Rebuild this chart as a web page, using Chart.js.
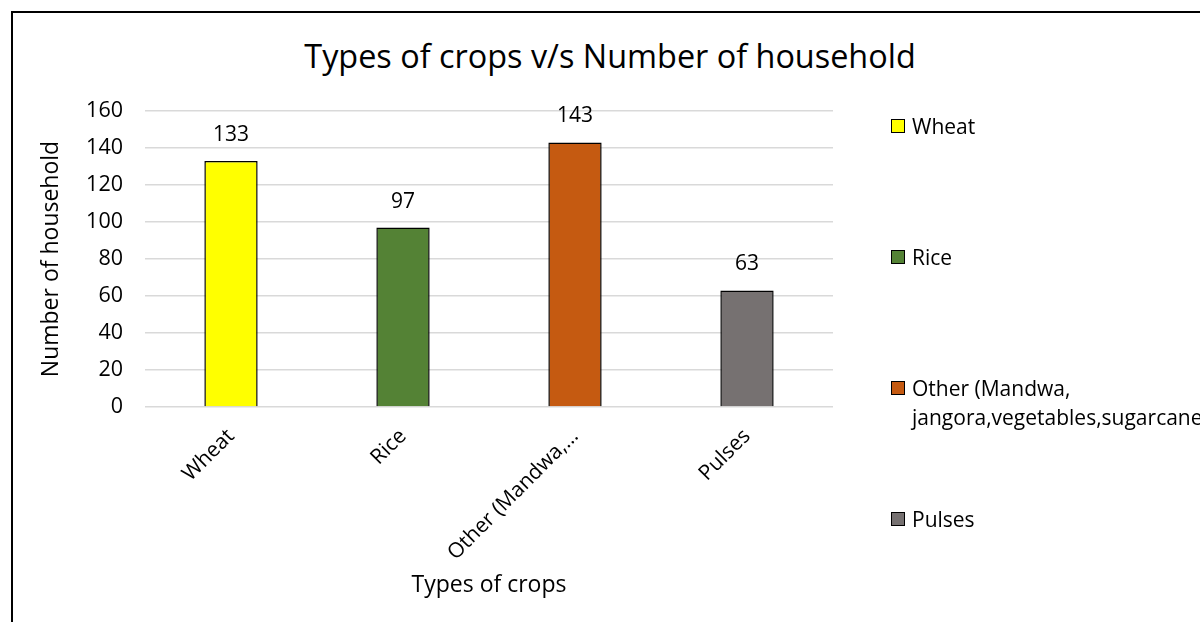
<!DOCTYPE html>
<html>
<head>
<meta charset="utf-8">
<style>
  html, body { margin: 0; padding: 0; background: #fff; }
  body { width: 1200px; height: 622px; overflow: hidden; position: relative; font-family: 'Open Sans', sans-serif; color: #000; }
  #marco { position: absolute; left: 11px; top: 11px; width: 1300px; height: 700px; border-left: 2px solid #000; border-top: 2px solid #000; }
  #titulo { position: absolute; left: 0; top: 33px; width: 1220px; text-align: center; font-size: 32.4px; line-height: 44px; }
  #caja { position: absolute; left: 0; top: 0; width: 1200px; height: 622px; }
  .item { position: absolute; left: 891px; width: 300px; font-size: 21px; line-height: 29px; white-space: normal; }
  .item .cuadro { position: absolute; left: 0; top: 7px; width: 12px; height: 12px; border: 1px solid #000; }
  .item .texto { display: block; margin-left: 21px; width: 270px; }
</style>
</head>
<body>
<div id="marco"></div>
<div id="titulo">Types of crops v/s Number of household</div>
<div id="caja"><canvas id="Grafica" width="1200" height="622"></canvas></div>
<div id="leyenda"></div>
<script src="https://cdn.jsdelivr.net/npm/chart.js"></script>
<script>
// datos
const cultivos = ['Wheat', 'Rice', 'Other (Mandwa, jangora,vegetables,sugarcane)', 'Pulses'];
const hogares = [133, 97, 143, 63];
const colores = ['#FFFF00', '#548235', '#C55A11', '#767171'];
const marcasY = [0, 20, 40, 60, 80, 100, 120, 140, 160];

// leyenda a la derecha (una entrada por cultivo)
const leyenda = document.getElementById('leyenda');
cultivos.forEach((c, i) => {
  const d = document.createElement('div');
  d.className = 'item';
  d.style.top = (112 + i * 131) + 'px';
  d.innerHTML = '<span class="cuadro" style="background:' + colores[i] + '"></span><span class="texto"></span>';
  d.querySelector('.texto').textContent = c;
  leyenda.appendChild(d);
});

// valores encima de cada barra
const etiquetasValor = {
  id: 'etiquetasValor',
  afterDatasetsDraw(chart) {
    const ctx = chart.ctx;
    const meta = chart.getDatasetMeta(0);
    ctx.save();
    ctx.font = "21px 'Open Sans'";
    ctx.fillStyle = '#000';
    ctx.textAlign = 'center';
    ctx.textBaseline = 'alphabetic';
    meta.data.forEach((bar, i) => {
      ctx.fillText(hogares[i], bar.x, bar.y - 20);
    });
    ctx.restore();
  }
};

Chart.defaults.font.family = "'Open Sans', sans-serif";
Chart.defaults.color = '#000';

new Chart(document.getElementById('Grafica'), {
  type: 'bar',
  data: {
    labels: cultivos,
    datasets: [{
      label: 'Number of household',
      data: hogares,
      backgroundColor: colores,
      borderColor: '#000',
      borderWidth: 1.5,
      categoryPercentage: 1,
      barPercentage: 0.31
    }]
  },
  options: {
    responsive: false,
    animation: false,
    layout: { padding: { left: 0, right: 367, top: 111, bottom: 0 } },
    plugins: {
      legend: { display: false },
      title: { display: false },
      tooltip: { enabled: false }
    },
    scales: {
      x: {
        grid: { display: false },
        border: { display: false },
        ticks: {
          font: { size: 21 },
          minRotation: 45,
          maxRotation: 45,
          padding: 9,
          callback: function (v) {
            const t = this.getLabelForValue(v);
            return t.length > 15 ? t.slice(0, 14) + '…' : t;
          }
        },
        title: { display: true, text: 'Types of crops', font: { size: 23 }, padding: { top: 0, bottom: 23 } },
        afterFit: s => { s.height = 622 - 407; }
      },
      y: {
        min: marcasY[0],
        max: marcasY[marcasY.length - 1],
        afterBuildTicks: s => { s.ticks = marcasY.map(v => ({ value: v })); },
        grid: { color: '#d9d9d9', lineWidth: 1.5, drawTicks: false },
        border: { display: false },
        ticks: { font: { size: 21.5 }, padding: 22 },
        title: { display: true, text: 'Number of household', font: { size: 23 }, padding: { top: 38, bottom: 0 } },
        afterFit: s => { s.width = 145; }
      }
    }
  },
  plugins: [etiquetasValor]
});
</script>
</body>
</html>
